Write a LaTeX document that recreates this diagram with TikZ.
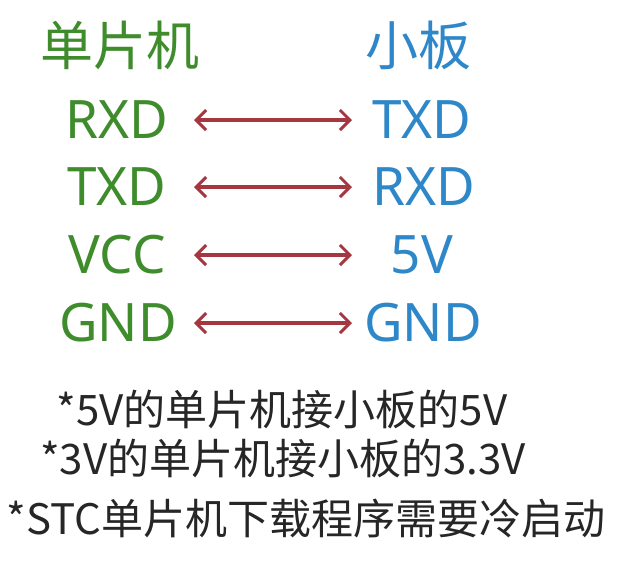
\documentclass[tikz,border=0pt]{standalone}
\usepackage{fontspec}
\setmainfont{Noto Sans CJK SC}
\newfontfamily\latinfont{Noto Sans}
\usetikzlibrary{arrows.meta}
\definecolor{mcugreen}{RGB}{62,140,44}
\definecolor{boardblue}{RGB}{45,135,200}
\definecolor{wirered}{RGB}{165,55,65}
\tikzset{
  lefttxt/.style={text=mcugreen, font=\latinfont\fontsize{53}{58}\selectfont, inner sep=0pt, anchor=center},
  righttxt/.style={text=boardblue, font=\latinfont\fontsize{53}{58}\selectfont, inner sep=0pt, anchor=center},
  headtxt/.style={font=\fontsize{53}{58}\selectfont, inner sep=0pt, anchor=center},
  notetxt/.style={text=black!85, font=\fontsize{42}{48}\selectfont, inner sep=0pt, anchor=center},
  wire/.style={draw=wirered, line width=3.5pt, {Straight Barb[length=10pt,width=20pt,line width=3pt]}-{Straight Barb[length=10pt,width=20pt,line width=3pt]}}
}
\begin{document}
\begin{tikzpicture}[x=1pt,y=-1pt]
\useasboundingbox (0,0) rectangle (636,566);
\fill[white] (0,0) rectangle (636,566);
% headers
\node[headtxt, text=mcugreen] (hl) at (120,45) {单片机};
\node[headtxt, text=boardblue] (hr) at (418,45) {小板};
% pins
\node[lefttxt] (l1) at (117,120) {RXD};
\node[lefttxt] (l2) at (117,187) {TXD};
\node[lefttxt] (l3) at (117,255) {VCC};
\node[lefttxt] (l4) at (118,323) {GND};
\node[righttxt] (r1) at (422,120) {TXD};
\node[righttxt] (r2) at (424,187) {RXD};
\node[righttxt] (r3) at (422,255) {5V};
\node[righttxt] (r4) at (423,323) {GND};
% arrow end columns
\coordinate (xl) at (194,0);
\coordinate (xr) at (352,0);
\draw[wire] (l1.center -| xl) -- (r1.center -| xr);
\draw[wire] (l2.center -| xl) -- (r2.center -| xr);
\draw[wire] (l3.center -| xl) -- (r3.center -| xr);
\draw[wire] (l4.center -| xl) -- (r4.center -| xr);
% notes
\node[notetxt] (n1) at (282,409) {*5V的单片机接小板的5V};
\node[notetxt] (n2) at (283,458) {*3V的单片机接小板的3.3V};
\node[notetxt] (n3) at (306,518) {*STC单片机下载程序需要冷启动};
\end{tikzpicture}
\end{document}
